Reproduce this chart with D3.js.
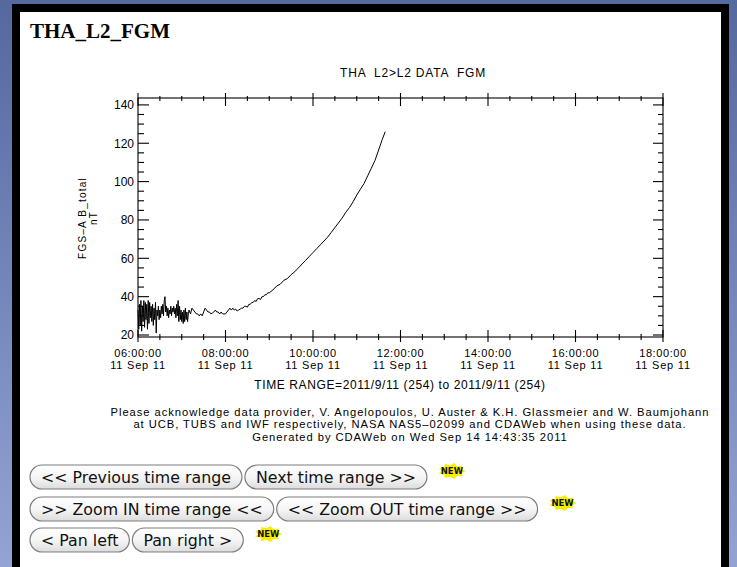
<!DOCTYPE html>
<html>
<head>
<meta charset="utf-8">
<script src="https://cdn.jsdelivr.net/npm/d3@7"></script>
<style>
  body { margin: 0; background: #fff; }
  svg { display: block; }
</style>
</head>
<body>
<div id="container"></div>
<script>
const W = 737, H = 567;

const heading = "THA_L2_FGM";
const plotTitle = "THA  L2>L2 DATA  FGM";
const yLabelLines = ["FGS\u2013A B_total", "nT"];
const yMajorTicks = [20, 40, 60, 80, 100, 120, 140];
const xMajorTicks = ["06:00", "08:00", "10:00", "12:00", "14:00", "16:00", "18:00"];
const dayLabel = "2011-09-11";
const timeRangeText = "TIME RANGE=2011/9/11 (254) to 2011/9/11 (254)";
const credits = [
  "Please acknowledge data provider, V. Angelopoulos, U. Auster & K.H. Glassmeier and W. Baumjohann",
  "at UCB, TUBS and IWF respectively, NASA NAS5\u201302099 and CDAWeb when using these data.",
  "Generated by CDAWeb on Wed Sep 14 14:43:35 2011"
];
const buttonRows = [
  ["<< Previous time range", "Next time range >>"],
  [">> Zoom IN time range <<", "<< Zoom OUT time range >>"],
  ["< Pan left", "Pan right >"]
];

// B_total samples (nT)
const times = [
  "06:00","06:01","06:02","06:03","06:04","06:05","06:06","06:07","06:08","06:09",
  "06:10","06:11","06:12","06:13","06:14","06:15","06:16","06:17","06:18","06:19",
  "06:20","06:21","06:22","06:23","06:24","06:25","06:26","06:27","06:28","06:29",
  "06:30","06:31","06:32","06:33","06:34","06:35","06:36","06:37","06:38","06:39",
  "06:40","06:41","06:42","06:43","06:44","06:45","06:46","06:47","06:48","06:49",
  "06:50","06:51","06:52","06:53","06:54","06:55","06:56","06:57","06:58","06:59",
  "07:00","07:01","07:02","07:03","07:04","07:05","07:06","07:07","07:08","07:09",
  "07:10","07:12","07:14","07:16","07:18","07:20","07:22","07:24","07:26","07:28",
  "07:30","07:32","07:34","07:36","07:38","07:40","07:42","07:44","07:46","07:48",
  "07:50","07:52","07:54","07:56","07:58","08:00","08:02","08:04","08:06","08:08",
  "08:10","08:12","08:14","08:16","08:18","08:20","08:22","08:24","08:26","08:28",
  "08:30","08:32","08:34","08:36","08:38","08:40","08:42","08:44","08:46","08:48",
  "08:50","08:52","08:54","08:56","08:58","09:00",
  "09:05","09:10","09:15","09:20","09:25","09:30","09:35","09:40","09:45","09:50",
  "09:55","10:00","10:05","10:10","10:15","10:20","10:25","10:30","10:35","10:40",
  "10:45","10:50","10:55","11:00","11:05","11:10","11:15","11:20","11:25","11:30",
  "11:35","11:39"
];
const btotal = [
  33, 23, 36, 25, 38, 22, 35, 27, 38, 24,
  37, 28, 36, 23, 38, 26, 37, 29, 35, 27,
  36, 25, 34, 28, 37, 21, 33, 30, 35, 28,
  33, 29, 35, 31, 36, 30, 38, 40, 32, 35,
  30, 34, 29, 33, 31, 35, 30, 34, 32, 35,
  31, 34, 29, 36, 30, 38, 27, 35, 28, 33,
  27, 32, 26, 33, 27, 34, 28, 32, 27, 31,
  33, 31, 34, 33, 32, 31, 31, 30, 31, 30,
  32, 34, 33, 32, 32, 31, 31.5, 32, 33, 32,
  32, 31, 32, 31, 31, 31, 32, 33, 34, 33,
  34, 33, 33.5, 32.5, 33, 33.5, 34, 34, 35, 35,
  34.5, 36, 36, 37, 37, 38, 37.5, 39, 39, 38.5,
  40, 40, 41, 41, 42, 42,
  43.5, 45.5, 46.5, 48.5, 49.5, 51.5, 53, 55, 57, 59,
  61, 63, 65, 67, 69, 71, 73.5, 76, 78.5, 81,
  84, 86.5, 89.5, 93, 96, 99, 103, 107, 111, 116.5,
  122, 126
];

const parseT = d3.utcParse("%Y-%m-%d %H:%M");
const toDate = s => parseT(dayLabel + " " + s);
const series = times.map((t, i) => ({ t: toDate(t), v: btotal[i] }));

const svg = d3.select("#container").append("svg")
  .attr("width", W).attr("height", H)
  .attr("font-family", "'Liberation Sans', Arial, sans-serif");

// page background (desktop blue, black window edge, white page)
const defs = svg.append("defs");
const bg = defs.append("linearGradient").attr("id", "bg")
  .attr("x1", 0).attr("y1", 0).attr("x2", 0).attr("y2", 1);
bg.append("stop").attr("offset", "0%").attr("stop-color", "#55689f");
bg.append("stop").attr("offset", "100%").attr("stop-color", "#93a3d3");
const btnGrad = defs.append("linearGradient").attr("id", "btn")
  .attr("x1", 0).attr("y1", 0).attr("x2", 0).attr("y2", 1);
btnGrad.append("stop").attr("offset", "0%").attr("stop-color", "#ffffff");
btnGrad.append("stop").attr("offset", "55%").attr("stop-color", "#f4f4f4");
btnGrad.append("stop").attr("offset", "100%").attr("stop-color", "#dcdcdc");

svg.append("rect").attr("width", W).attr("height", H).attr("fill", "url(#bg)");
svg.append("rect").attr("x", 12).attr("y", 4).attr("width", 717).attr("height", H).attr("fill", "#000");
svg.append("rect").attr("x", 20).attr("y", 12).attr("width", 701).attr("height", H).attr("fill", "#fff");

svg.append("text")
  .attr("x", 30).attr("y", 38)
  .attr("font-family", "'Liberation Serif', 'Times New Roman', serif")
  .attr("font-weight", "bold").attr("font-size", 21)
  .text(heading);

// plot area
const plot = { left: 138, right: 663, top: 98, bottom: 337 };

const x = d3.scaleUtc()
  .domain([toDate("06:00"), toDate("18:00")])
  .range([plot.left, plot.right]);
const y = d3.scaleLinear()
  .domain([18.96, 143.6])
  .range([plot.bottom, plot.top]);

const xMajor = xMajorTicks.map(toDate);
const xMinor = d3.utcMinute.every(30).range(toDate("06:00"), toDate("18:00"))
  .filter(d => d.getUTCMinutes() !== 0 || d.getUTCHours() % 2 !== 0);
const yMinor = d3.range(20, 141, 5).filter(v => v % 20 !== 0);

const g = svg.append("g").attr("stroke", "#000").attr("stroke-width", 1.1);

g.append("rect")
  .attr("x", plot.left).attr("y", plot.top)
  .attr("width", plot.right - plot.left).attr("height", plot.bottom - plot.top)
  .attr("fill", "none");

// x ticks, bottom and top
function xTicks(vals, b0, b1, t0, t1) {
  g.selectAll(null).data(vals).enter().append("line")
    .attr("x1", d => x(d)).attr("x2", d => x(d))
    .attr("y1", plot.bottom + b0).attr("y2", plot.bottom + b1);
  g.selectAll(null).data(vals).enter().append("line")
    .attr("x1", d => x(d)).attr("x2", d => x(d))
    .attr("y1", plot.top + t0).attr("y2", plot.top + t1);
}
xTicks(xMajor, -7, 5, -5, 8);
xTicks(xMinor, -3, 3, -2, 3);

// y ticks, left and right (inward)
function yTicks(vals, len) {
  g.selectAll(null).data(vals).enter().append("line")
    .attr("x1", plot.left).attr("x2", plot.left + len + 1)
    .attr("y1", d => y(d)).attr("y2", d => y(d));
  g.selectAll(null).data(vals).enter().append("line")
    .attr("x1", plot.right).attr("x2", plot.right - len)
    .attr("y1", d => y(d)).attr("y2", d => y(d));
}
yTicks(yMajorTicks, 10);
yTicks(yMinor, 5);

// tick labels: time over date
const fmtTime = d3.utcFormat("%H:%M:%S");
const fmtDay = d3.utcFormat("%-d %b %y");
const xl = svg.append("g").attr("font-size", 11).attr("text-anchor", "middle").attr("fill", "#000");
xl.selectAll(null).data(xMajor).enter().append("text")
  .attr("x", d => x(d)).attr("y", 357).attr("letter-spacing", 0.6).text(fmtTime);
xl.selectAll(null).data(xMajor).enter().append("text")
  .attr("x", d => x(d)).attr("y", 369.4).attr("letter-spacing", 0.8).text(fmtDay);

svg.append("g").attr("font-size", 12).attr("text-anchor", "end")
  .selectAll(null).data(yMajorTicks).enter().append("text")
  .attr("x", plot.left - 4).attr("y", d => y(d) + 4.3).text(d => d);

// y label
const yl = svg.append("g").attr("font-size", 10).attr("text-anchor", "middle")
  .attr("letter-spacing", 1.2)
  .attr("transform", "translate(0,218) rotate(-90)");
yl.selectAll(null).data(yLabelLines).enter().append("text")
  .attr("x", 0).attr("y", (d, i) => 86 + i * 11.3).text(d => d);

// plot title
svg.append("text").attr("x", 413).attr("y", 77).attr("font-size", 12)
  .attr("text-anchor", "middle").attr("letter-spacing", 0.8)
  .style("white-space", "pre").text(plotTitle);

// data line
svg.append("path").datum(series)
  .attr("fill", "none").attr("stroke", "#000").attr("stroke-width", 1)
  .attr("stroke-linejoin", "round")
  .attr("d", d3.line().x(d => x(d.t)).y(d => y(d.v)));

// footer texts
svg.append("text").attr("x", 400).attr("y", 389).attr("font-size", 12)
  .attr("letter-spacing", 0.6)
  .attr("text-anchor", "middle").text(timeRangeText);
svg.append("g").attr("font-size", 11.2).attr("text-anchor", "middle")
  .attr("letter-spacing", 0.95)
  .selectAll(null).data(credits).enter().append("text")
  .attr("x", 410).attr("y", (d, i) => 415.5 + i * 12.6).text(d => d);

// navigation buttons
const rowTop = [465, 497, 528];
const btnH = 24;
buttonRows.forEach((row, ri) => {
  let bx = 30;
  row.forEach(label => {
    const bg = svg.append("g").attr("transform", `translate(${bx},${rowTop[ri]})`);
    const rect = bg.append("rect")
      .attr("height", btnH).attr("rx", btnH / 2).attr("ry", btnH / 2)
      .attr("fill", "url(#btn)").attr("stroke", "#7d7d7d").attr("stroke-width", 1.2);
    const txt = bg.append("text")
      .attr("y", btnH / 2 + 6)
      .attr("font-family", "'DejaVu Sans', Verdana, sans-serif")
      .attr("font-size", 15.8).attr("fill", "#111").text(label);
    const w = txt.node().getComputedTextLength() + 22;
    rect.attr("width", w);
    txt.attr("x", 11);
    bx += w + 3;
  });
  // "NEW" badge after the row
  const cx = bx + 22, cy = rowTop[ri] + 6;
  const pts = d3.range(18).map(k => {
    const a = (k / 18) * 2 * Math.PI;
    const r = k % 2 ? 0.72 : 1;
    return [cx + Math.cos(a) * 14 * r, cy + Math.sin(a) * 8 * r];
  });
  svg.append("polygon").attr("points", pts.map(p => p.join(",")).join(" "))
    .attr("fill", "#f4f000");
  svg.append("text").attr("x", cx).attr("y", cy + 3)
    .attr("text-anchor", "middle").attr("font-size", 8.5).attr("font-weight", "bold")
    .attr("font-family", "'DejaVu Sans', sans-serif").attr("fill", "#111").text("NEW");
});
</script>
</body>
</html>
